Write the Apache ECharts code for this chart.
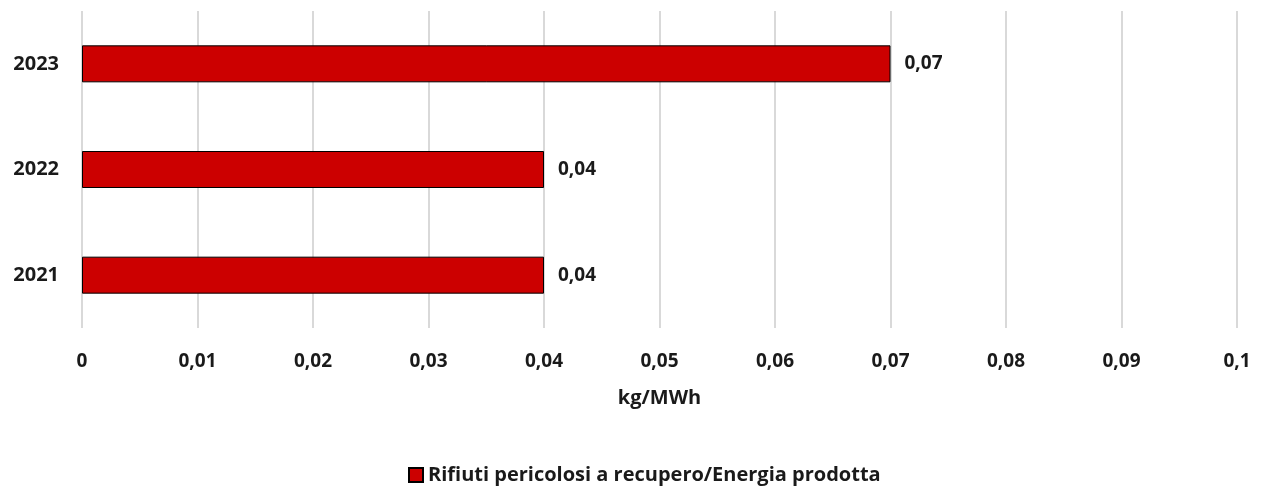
<!DOCTYPE html>
<html>
<head>
<meta charset="utf-8">
<script src="https://cdn.jsdelivr.net/npm/echarts@6/dist/echarts.min.js"></script>
<style>
  html, body { margin: 0; padding: 0; background: #fff; }
  #chart { width: 1263px; height: 486px; }
</style>
</head>
<body>
<div id="chart"></div>
<script>
// Anni (dal basso verso l'alto) e valori dell'indicatore
const years = ['2021', '2022', '2023'];
const values = [0.04, 0.04, 0.07];
const seriesName = 'Rifiuti pericolosi a recupero/Energia prodotta';
const axisTitle = 'kg/MWh';

const FONT = '"Open Sans", "Noto Sans", sans-serif';
const fmt = v => String(v).replace('.', ',');

const chart = echarts.init(document.getElementById('chart'), null, { renderer: 'canvas' });
chart.setOption({
  animation: false,
  textStyle: { fontFamily: FONT },
  grid: { left: 82, right: 26, top: 11, bottom: 158, containLabel: false },
  legend: {
    data: [seriesName],
    top: 460,
    left: 403,
    itemWidth: 14,
    itemHeight: 14,
    itemGap: 4,
    icon: 'rect',
    textStyle: { fontFamily: FONT, fontWeight: 'bold', fontSize: 20, color: '#1a1a1a' }
  },
  xAxis: {
    type: 'value',
    min: 0,
    max: 0.1,
    interval: 0.01,
    name: axisTitle,
    nameLocation: 'middle',
    nameGap: 60,
    nameTextStyle: { fontFamily: FONT, fontWeight: 'bold', fontSize: 20, color: '#1a1a1a' },
    axisLine: { show: false },
    axisTick: { show: false },
    axisLabel: {
      margin: 24,
      fontFamily: FONT, fontWeight: 'bold', fontSize: 19, color: '#1a1a1a',
      formatter: v => fmt(+v.toFixed(2))
    },
    splitLine: { show: true, lineStyle: { color: '#d9d9d9', width: 2 } }
  },
  yAxis: {
    type: 'category',
    data: years,
    axisLine: { show: false },
    axisTick: { show: false },
    axisLabel: { margin: 23, fontFamily: FONT, fontWeight: 'bold', fontSize: 20, color: '#1a1a1a', padding: [3, 0, 0, 0] }
  },
  series: [{
    name: seriesName,
    type: 'bar',
    data: values,
    barWidth: 37,
    itemStyle: { color: '#cc0000', borderColor: '#000', borderWidth: 1 },
    label: {
      show: true,
      position: 'right',
      distance: 14,
      fontFamily: FONT, fontWeight: 'bold', fontSize: 19, color: '#1a1a1a',
      padding: [8, 0, 0, 0],
      formatter: p => fmt(p.value)
    }
  }]
});
</script>
</body>
</html>
